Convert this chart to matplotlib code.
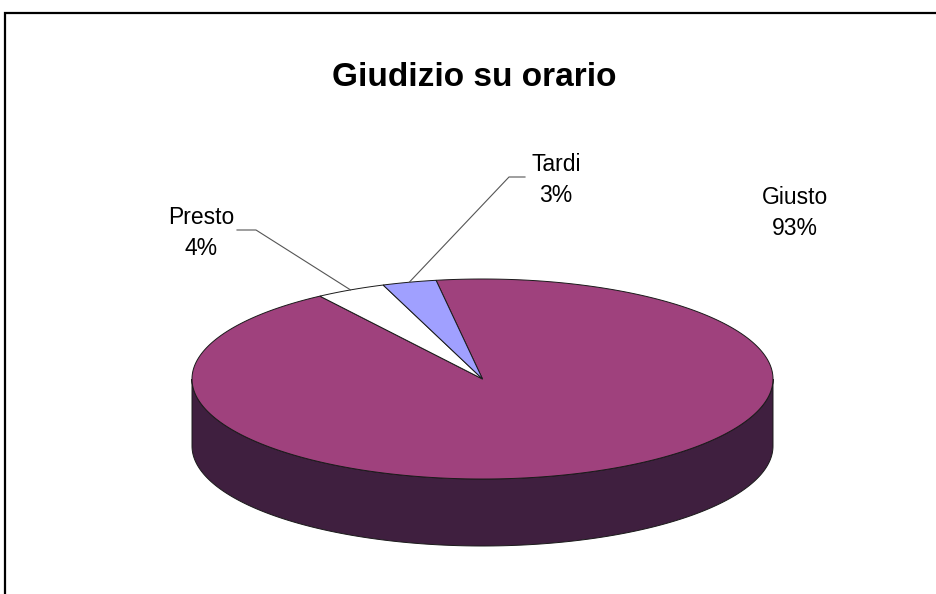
import numpy as np
import matplotlib.pyplot as plt
from matplotlib.patches import Polygon

# Data
categories = ['Giusto', 'Presto', 'Tardi']
values = [93.1, 3.9, 3.0]
labels_pct = ['93%', '4%', '3%']
colors_top = ['#9F417D', '#FFFFFF', '#A0A0FF']
colors_side = ['#3F1F3F', '#7F7F7F', '#50507F']

plt.rcParams['font.family'] = ['Liberation Sans', 'DejaVu Sans']

fig = plt.figure(figsize=(9.36, 5.94), dpi=100)
ax = fig.add_axes([0, 0, 1, 1])
ax.set_xlim(0, 936)
ax.set_ylim(594, 0)
ax.axis('off')

# pie geometry (pixel space)
cx, cy = 482.5, 379.0
rx, ry = 290.5, 100.0
depth = 67.0
start = 99.2  # degrees, slices go clockwise


def pt(a, dy=0.0):
    r = np.radians(a)
    return cx + rx * np.cos(r), cy - ry * np.sin(r) + dy


fracs = np.array(values) / np.sum(values)
bounds = []
a = start
for f in fracs:
    bounds.append((a - f * 360, a))
    a -= f * 360

# side wall (front half only, angles 180..360)
for (a0, a1), col in zip(bounds, colors_side):
    for shift in (-360, 0, 360):
        lo = max(a0 + shift, 180)
        hi = min(a1 + shift, 360)
        if hi <= lo:
            continue
        th = np.linspace(lo, hi, 200)
        top = [pt(t) for t in th]
        bot = [pt(t, depth) for t in th[::-1]]
        ax.add_patch(Polygon(top + bot, closed=True, facecolor=col,
                             edgecolor='#1a1a1a', linewidth=0.7))

# top faces
for (a0, a1), col in zip(bounds, colors_top):
    th = np.linspace(a0, a1, 400)
    poly = [(cx, cy)] + [pt(t) for t in th]
    ax.add_patch(Polygon(poly, closed=True, facecolor=col,
                         edgecolor='#1a1a1a', linewidth=0.7))

# labels
label_pos = {'Giusto': (795, 213), 'Presto': (201, 233), 'Tardi': (556, 180)}
leader = {'Presto': [(237, 230), (256, 230)], 'Tardi': [(525, 177), (509, 177)]}
for (a0, a1), name, pct in zip(bounds, categories, labels_pct):
    x, y = label_pos[name]
    ax.text(x, y, f'{name}\n{pct}', ha='center', va='center', fontsize=16.5,
            linespacing=1.45, color='black')
    if name in leader:
        p0, p1 = leader[name]
        p2 = pt((a0 + a1) / 2)
        ax.plot([p0[0], p1[0], p2[0]], [p0[1], p1[1], p2[1]],
                color='#555555', linewidth=0.8)

# title
ax.text(474, 77, 'Giudizio su orario', ha='center', va='center',
        fontsize=24, fontweight='bold')

# chart frame (cropped on right and bottom)
ax.plot([4.5, 4.5, 936], [594, 12.5, 12.5], color='black', linewidth=1.6,
        solid_joinstyle='miter')

fig.savefig('out.png', dpi=100)
